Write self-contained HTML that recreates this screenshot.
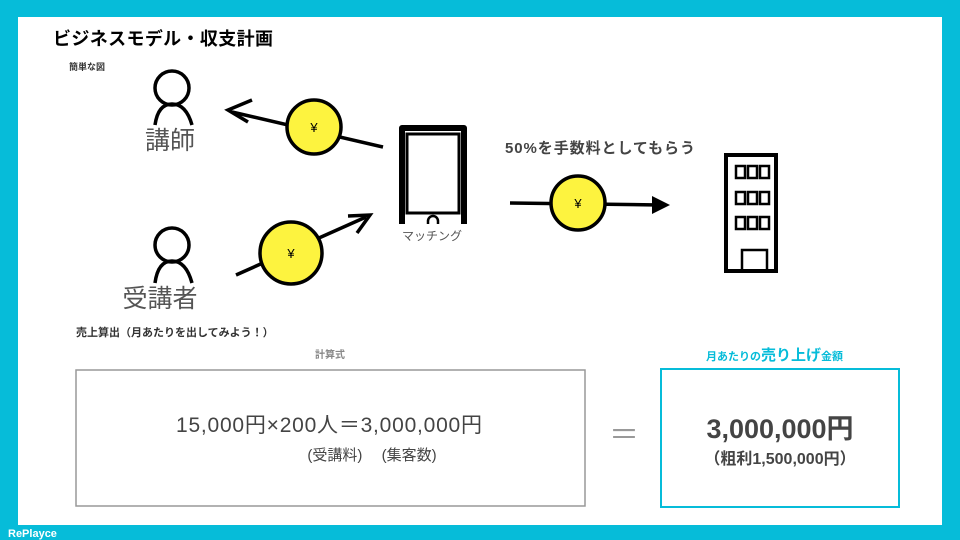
<!DOCTYPE html>
<html><head><meta charset="utf-8"><style>
body{margin:0;width:960px;height:540px;background:#06bcd9;overflow:hidden;font-family:"Liberation Sans","Noto Sans CJK JP",sans-serif}
</style></head><body>
<svg width="960" height="540" xmlns="http://www.w3.org/2000/svg" style="position:absolute;left:0;top:0;font-family:'Liberation Sans','Noto Sans CJK JP',sans-serif">
<rect x="18" y="17" width="924" height="508" fill="#fff"/>
<text x="8" y="537" font-size="11" font-weight="bold" fill="#fff">RePlayce</text>
<text x="53" y="45" font-size="18" font-weight="bold" fill="#000" textLength="220">ビジネスモデル・収支計画</text>
<text x="69" y="70" font-size="9" font-weight="bold" fill="#333">簡単な図</text>
<g fill="none" stroke="#000" stroke-width="3.5">
<circle cx="172" cy="88" r="17"/>
<path d="M155 125 Q158 104 172 104 Q186 104 192 125"/>
<circle cx="172" cy="245" r="17"/>
<path d="M155 283 Q158 261 172 261 Q186 261 192 283"/>
</g>
<text x="170" y="149" font-size="25" fill="#555" text-anchor="middle">講師</text>
<text x="160" y="307" font-size="25" fill="#555" text-anchor="middle">受講者</text>
<g stroke="#000" stroke-width="3.5" fill="none">
<line x1="383" y1="147" x2="232" y2="112"/>
<path d="M252 100 L228 110 L248 122"/>
<line x1="236" y1="275" x2="366" y2="217"/>
<path d="M348 216 L370 215 L357 233"/>
<line x1="510" y1="203" x2="660" y2="205"/>
</g>
<path d="M652 196 L670 205 L652 214 Z" fill="#000"/>
<g stroke="#000" stroke-width="3.5" fill="#fdf33f">
<circle cx="314" cy="127" r="27"/>
<circle cx="291" cy="253" r="31"/>
<circle cx="578" cy="203" r="27"/>
</g>
<g font-size="13" text-anchor="middle" fill="#000">
<text x="314" y="132">¥</text><text x="291" y="258">¥</text><text x="578" y="208">¥</text>
</g>
<path d="M402 224 V128 H464 V224" fill="none" stroke="#000" stroke-width="6" stroke-linejoin="round"/>
<rect x="407" y="134" width="52" height="79" fill="none" stroke="#000" stroke-width="3"/>
<path d="M428 224 V221 A5 5 0 0 1 438 221 V224" fill="none" stroke="#000" stroke-width="2.5"/>
<text x="432" y="240" font-size="12" fill="#555" text-anchor="middle">マッチング</text>
<text x="505" y="153" font-size="15" font-weight="bold" fill="#444" textLength="190">50%を手数料としてもらう</text>
<rect x="726" y="155" width="50" height="116" fill="none" stroke="#000" stroke-width="4"/>
<g fill="none" stroke="#000" stroke-width="2.5">
<rect x="736" y="166" width="9" height="12"/><rect x="748" y="166" width="9" height="12"/><rect x="760" y="166" width="9" height="12"/>
<rect x="736" y="192" width="9" height="12"/><rect x="748" y="192" width="9" height="12"/><rect x="760" y="192" width="9" height="12"/>
<rect x="736" y="217" width="9" height="12"/><rect x="748" y="217" width="9" height="12"/><rect x="760" y="217" width="9" height="12"/>
<rect x="742" y="250" width="25" height="21"/>
</g>
<text x="76" y="336" font-size="11" font-weight="bold" fill="#333">売上算出（月あたりを出してみよう！）</text>
<text x="330" y="358" font-size="10" font-weight="bold" fill="#888" text-anchor="middle">計算式</text>
<rect x="76" y="370" width="509" height="136" fill="none" stroke="#999" stroke-width="1.5"/>
<text x="176" y="432" font-size="21" fill="#444" textLength="306">15,000円×200人＝3,000,000円</text>
<text x="372" y="460" font-size="15" fill="#444" text-anchor="middle">(受講料)　 (集客数)</text>
<text x="624" y="445" font-size="30" fill="#999" text-anchor="middle">＝</text>
<text x="706" y="360" font-size="11" font-weight="bold" fill="#06bcd9">月あたりの<tspan font-size="15">売り上げ</tspan>金額</text>
<rect x="661" y="369" width="238" height="138" fill="none" stroke="#06bcd9" stroke-width="2"/>
<text x="780" y="438" font-size="27" font-weight="bold" fill="#444" text-anchor="middle">3,000,000円</text>
<text x="780" y="464" font-size="16" font-weight="bold" fill="#444" text-anchor="middle">（粗利1,500,000円）</text>
</svg>
</body></html>
